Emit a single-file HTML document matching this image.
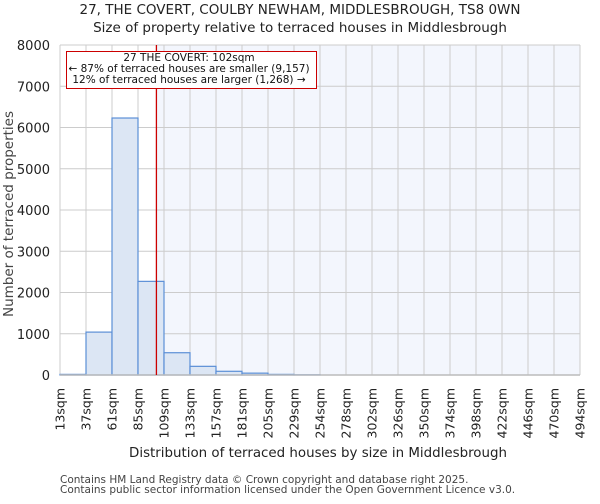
<!DOCTYPE html>
<html><head><meta charset="utf-8"><style>
body{margin:0;background:#fff;font-family:"DejaVu Sans","Liberation Sans",sans-serif}
</style></head><body>
<svg id="c" width="600" height="500" xmlns="http://www.w3.org/2000/svg" font-family="DejaVu Sans, Liberation Sans, sans-serif">
<text x="300" y="14" text-anchor="middle" font-size="13.5" fill="#222">27, THE COVERT, COULBY NEWHAM, MIDDLESBROUGH, TS8 0WN</text>
<text x="300" y="32" text-anchor="middle" font-size="13.5" fill="#222">Size of property relative to terraced houses in Middlesbrough</text>
<g id="plot"></g>
<text x="318" y="457" text-anchor="middle" font-size="13.4" fill="#222">Distribution of terraced houses by size in Middlesbrough</text>
<text transform="translate(13,214) rotate(-90)" text-anchor="middle" font-size="13.5" fill="#444">Number of terraced properties</text>
<text x="60" y="483" font-size="10.5" fill="#444">Contains HM Land Registry data © Crown copyright and database right 2025.</text>
<text x="60" y="493" font-size="10.5" fill="#444">Contains public sector information licensed under the Open Government Licence v3.0.</text>
</svg>
<script>
const categories=["13sqm","37sqm","61sqm","85sqm","109sqm","133sqm","157sqm","181sqm","205sqm","229sqm","254sqm","278sqm","302sqm","326sqm","350sqm","374sqm","398sqm","422sqm","446sqm","470sqm","494sqm"];
const counts=[15,1040,6230,2270,540,210,90,45,15,5,0,0,0,0,0,0,0,0,0,0];
const yTicks=[0,1000,2000,3000,4000,5000,6000,7000,8000];
const markerValue=102;
const NS="http://www.w3.org/2000/svg";
const g=document.getElementById('plot');
const L=60,R=580,T=45,B=375,yMax=8000;
const nb=counts.length,bw=(R-L)/nb;
const X=i=>L+i*bw;
const Y=v=>B-v/yMax*(B-T);
const xv=v=>L+(v-13)/24*bw;
function el(t,a){const e=document.createElementNS(NS,t);for(const k in a)e.setAttribute(k,a[k]);g.appendChild(e);return e;}
const mx=xv(markerValue);
let e=el('rect',{x:mx,y:T,width:R-mx,height:B-T,fill:'#f3f6fd'});


yTicks.forEach(t=>{
 let l=el('line',{x1:L,x2:R,y1:Y(t),y2:Y(t),stroke:'#ccc','stroke-width':1});
 
 
 let tx=el('text',{x:L-10,y:Y(t)+5,'text-anchor':'end','font-size':13,fill:'#222'});
 tx.textContent=t;
 
 
});
categories.forEach((c,i)=>{
 let l=el('line',{x1:X(i),x2:X(i),y1:T,y2:B,stroke:'#ccc','stroke-width':1});
 
 
 let tx=el('text',{transform:`translate(${X(i)+4.5},388) rotate(-90)`,'text-anchor':'end','font-size':12.5,fill:'#222'});
 tx.textContent=c;
 
 
});
counts.forEach((v,i)=>{
 if(v<=0)return;
 let r=el('rect',{x:X(i),y:Y(v),width:bw,height:B-Y(v),fill:'#dce6f4',stroke:'#5b8fd6','stroke-width':1.2});
 
 
});
e=el('line',{x1:L,x2:R,y1:B,y2:B,stroke:'#bbb','stroke-width':1.5});


e=el('line',{x1:mx,x2:mx,y1:T,y2:B,stroke:'#cc0000','stroke-width':1.3});


e=el('rect',{x:66.5,y:51.5,width:250,height:37,fill:'#fff',stroke:'#cc0000','stroke-width':1});


[["27 THE COVERT: 102sqm",61],["← 87% of terraced houses are smaller (9,157)",72],["12% of terraced houses are larger (1,268) →",83]].forEach(([s,y])=>{
 let t=el('text',{x:189,y:y,'text-anchor':'middle','font-size':10.5,fill:'#111'});
 t.textContent=s;
 
 
});
</script>
</body></html>
